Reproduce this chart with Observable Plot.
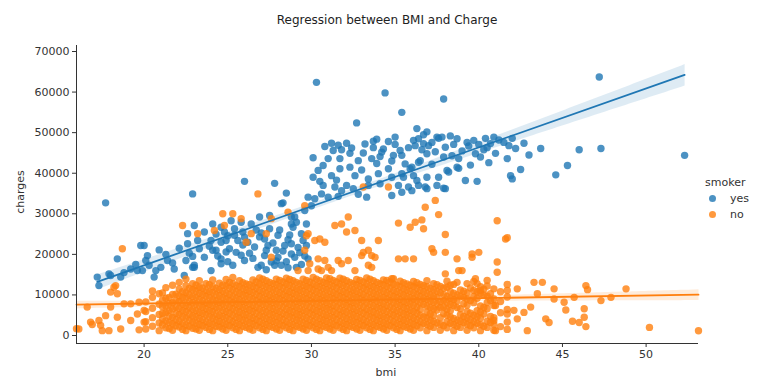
<!DOCTYPE html>
<html><head><meta charset="utf-8">
<script src="https://cdn.jsdelivr.net/npm/d3@7"></script>
<script src="https://cdn.jsdelivr.net/npm/@observablehq/plot@0.6"></script>
<style>
body{margin:0;background:#fff;font-family:"DejaVu Sans",sans-serif;}
#wrap{position:relative;width:757px;height:378px;overflow:hidden;background:#fff}
#title{height:30px;width:774px;text-align:center;font-size:12px;line-height:40px;color:#222;white-space:nowrap}
#ylab{position:absolute;left:20px;top:192px;transform:translate(-50%,-50%) rotate(-90deg);font-size:11px;color:#333}
#xlab{position:absolute;left:386px;top:366px;transform:translateX(-50%);font-size:11px;color:#333}
#legend{position:absolute;left:703px;top:174px;font-size:11px;color:#333}
#legend .row{display:flex;align-items:center;height:16px}
#legend .dot{width:7px;height:7px;border-radius:50%;margin:0 14px 0 6px;opacity:.8}
</style></head>
<body><div id="wrap"><div id="title">Regression between BMI and Charge</div><div id="chart"></div>
<div id="ylab">charges</div><div id="xlab">bmi</div><div id="legend"></div></div>
<script>
const smokerLevels = ["yes", "no"];
const colors = ["#1f77b4", "#ff7f0e"];
const xTicks = [20, 25, 30, 35, 40, 45, 50];
const yTicks = [0, 10000, 20000, 30000, 40000, 50000, 60000, 70000];
const xDomain = [15.96, 53.13];
const yDomain = [-1970, 71480];

// smokers: [bmi, charges]
const smokerPoints = [
[17.2,14400],[17.3,12300],[17.7,32700],[17.9,15200],[18.0,14800],[18.4,18900],[18.6,14400],[18.8,15500],[19.2,16400],[19.5,17500],[19.6,16000],[19.8,22200],[19.9,16000],
[20.0,22200],[20.1,18500],[20.2,19700],[20.3,17300],[20.6,14400],[20.7,16000],[20.9,21100],[21.0,16800],[21.3,20000],[21.4,18500],[21.7,17900],[21.8,16400],[22.1,21500],
[22.4,14800],[22.5,18500],[22.6,22600],[22.6,25100],[22.7,20300],[22.9,34900],[22.9,19500],[22.9,16800],[23.0,27100],[23.0,17300],[23.0,16800],[23.2,23400],[23.3,21400],
[23.6,25500],[23.6,19300],[23.9,22000],[24.0,23400],[24.0,16000],[24.1,27500],[24.1,21000],[24.3,21000],[24.3,25000],[24.4,19600],[24.6,18900],[24.6,17700],[24.6,23000],
[24.6,26700],[24.8,25500],[24.9,23400],[24.9,20600],[25.0,24600],[25.0,18200],[25.1,21400],[25.2,28300],[25.3,17300],[25.4,26300],[25.4,24700],[25.5,20500],[25.6,23400],[25.8,27900],
[25.8,19800],[25.9,25500],[25.9,22300],[26.0,24200],[26.0,18500],[26.0,38000],[26.2,23000],[26.3,20300],[26.4,27500],[26.5,19000],[26.6,21800],[26.7,26000],[26.8,16800],
[26.9,29200],[26.9,24300],[27.0,25300],[27.0,17300],[27.2,23800],[27.2,19700],[27.3,21000],[27.3,16200],[27.4,22200],[27.5,26300],[27.5,29600],[27.6,18100],[27.7,22800],
[27.8,17300],[27.8,37500],[27.9,21000],[27.9,18400],[28.0,24700],[28.0,19300],[28.1,26000],[28.2,32500],[28.2,17300],[28.3,32700],[28.3,20800],[28.4,22200],
[28.5,35100],[28.5,18200],[28.6,23600],[28.6,16700],[28.7,24800],[28.8,20100],[28.8,29200],[28.8,27500],[28.8,22600],[28.9,26700],[29.0,29200],[29.0,19300],
[29.1,27900],[29.1,16800],[29.2,21700],[29.3,20400],[29.4,25100],[29.4,17500],[29.5,23400],[29.6,30800],[29.6,19600],[29.7,27500],[29.7,22200],[29.8,34100],[29.8,18900],
[30.0,32000],[30.1,43800],[30.1,39000],[30.2,33700],[30.3,62400],[30.4,40700],[30.5,38000],[30.6,34900],[30.7,41900],[30.7,37000],
[30.8,46600],[31.0,43600],[31.0,34100],[31.2,47400],[31.2,39400],[31.3,45600],[31.4,36600],[31.5,38300],[31.6,34300],[31.6,46900],[31.7,43600],
[31.7,41100],[31.8,45800],[31.8,35700],[32.1,47400],[32.1,37000],[32.3,44900],[32.3,41500],[32.4,46200],[32.5,36200],[32.6,39400],[32.7,52400],
[32.8,34800],[32.8,43100],[33.0,40800],[33.1,45000],[33.2,47200],[33.3,34100],[33.4,38600],[33.4,37000],[33.6,43600],[33.7,47900],[33.7,46300],
[33.9,42400],[33.9,48400],[34.0,39900],[34.1,44100],[34.1,37400],[34.2,45200],[34.3,46000],[34.4,59800],[34.6,41100],[34.6,47800],[34.8,39000],[34.8,34500],[34.8,43000],
[34.9,44400],[35.0,47100],[35.0,48900],[35.2,37000],[35.3,45600],[35.4,55000],[35.4,44400],[35.4,39900],[35.4,35300],[35.5,39000],[35.6,42300],[35.8,46300],
[35.8,36600],[35.9,41100],[36.0,41500],[36.0,35700],[36.1,48100],[36.1,39400],[36.2,46800],[36.3,51000],[36.3,38200],[36.4,37000],[36.4,42700],
[36.4,48500],[36.5,43100],[36.6,45800],[36.7,47300],[36.7,49500],[36.8,36600],[36.9,39000],[36.9,36200],[36.9,44800],[36.9,50200],[37.0,46800],
[37.2,42200],[37.2,47600],[37.4,45300],[37.5,37000],[37.5,48900],[37.6,39000],[37.6,48600],[37.8,48900],[37.9,58300],[37.9,44000],[37.9,36300],[38.0,36200],[38.0,46400],
[38.1,40700],[38.2,40300],[38.3,49200],[38.4,44300],[38.5,47100],[38.7,41500],[38.7,48500],[38.8,41200],[38.8,43600],[39.0,45500],[39.2,38200],[39.3,47600],[39.4,46700],[39.5,42000],
[39.7,48100],[39.8,44800],[39.9,38000],[40.0,47100],[40.1,44000],[40.3,45800],[40.4,48600],[40.5,46300],[40.6,42600],[40.7,47300],[40.9,48900],[41.0,44900],[41.2,48200],[41.5,47600],[41.7,43600],
[41.8,46800],[41.9,39400],[42.0,48600],[42.0,38600],[42.2,46100],[42.5,40900],[42.7,47400],[43.0,44500],[43.7,46100],[44.6,39600],[45.3,41900],[46.0,45800],
[47.2,63700],[47.3,46100],[52.3,44400]
];

// non-smokers, dense body (two overlapping layers): [bmi, charges, charges, ...]
const nonSmokerColumnsA = [
[20.1,1600,3400,5900,8300],
[20.5,2300,4400,6700,9400,11000],
[20.9,1200,3100,5200,7700,10300],
[21.3,1900,3600,5600,7300,9200,11800],
[21.7,1300,2900,4500,6500,8100,10100,12400],
[22.1,2100,3500,5200,6700,8400,9800,11500,13100],
[22.5,1200,2600,4300,5900,7400,9200,10600,12300,13900],
[22.9,1800,3300,4800,6400,8100,9600,11300,12800],
[23.3,1300,2700,4200,5700,7300,8900,10400,11900,13500],
[23.7,2000,3400,5100,6600,8000,9700,11100,12800],
[24.1,1200,2800,4300,5900,7400,8900,10600,12100,13700],
[24.5,2100,3500,5000,6700,8200,9800,11300,12900],
[24.9,1300,2800,4400,5900,7500,9000,10500,12200,13800],
[25.3,1900,3400,5000,6600,8100,9600,11300,12800,14300],
[25.7,1200,2700,4300,5800,7300,8900,10400,12000,13500],
[26.1,2000,3600,5100,6600,8200,9800,11200,12700],
[26.5,1300,2900,4300,5900,7400,9000,10600,12100,13700],
[26.9,1900,3400,4900,6500,8100,9600,11100,12700,14200],
[27.3,1200,2700,4200,5800,7400,8900,10400,12000,13500],
[27.7,2000,3500,5100,6600,8100,9600,11300,12800],
[28.1,1300,2800,4400,5900,7500,9000,10500,12100,13600],
[28.5,1900,3400,5000,6500,8000,9600,11100,12700,14100],
[28.9,1200,2700,4300,5800,7300,8900,10400,11900,13500],
[29.3,2000,3600,5100,6600,8200,9700,11200,12800],
[29.7,1300,2800,4300,5900,7500,9000,10500,12100,13600],
[30.1,1900,3400,5000,6500,8100,9600,11200,12700,14300],
[30.5,1200,2700,4200,5800,7300,8900,10400,12000,13500],
[30.9,2000,3500,5000,6600,8100,9700,11300,12800,14200],
[31.3,1300,2800,4400,5900,7400,9000,10500,12100,13600],
[31.7,1900,3400,5000,6500,8100,9600,11100,12700,14100],
[32.1,1200,2700,4200,5800,7400,8900,10400,12000,13500],
[32.5,2000,3500,5100,6600,8100,9700,11200,12800],
[32.9,1300,2800,4300,5900,7500,9000,10500,12100,13600],
[33.3,1900,3400,5000,6500,8100,9600,11200,12700,14200],
[33.7,1200,2700,4300,5800,7300,8900,10400,12000,13500],
[34.1,2000,3500,5000,6600,8100,9700,11300,12800],
[34.5,1300,2800,4400,5900,7400,9000,10500,12100,13600],
[34.9,1900,3400,5000,6500,8100,9600,11100,12700,14000],
[35.3,1200,2700,4200,5800,7400,8900,10400,12000,13400],
[35.7,2000,3500,5100,6600,8100,9700,11200,12700],
[36.1,1300,2800,4300,5900,7500,9000,10500,12100,13300],
[36.5,1900,3400,5000,6500,8100,9600,11100,12600],
[36.9,1200,2700,4300,5800,7300,8900,10400,12000,13500],
[37.3,2000,3500,5000,6600,8200,9700,11300,12800],
[37.7,1300,2800,4400,6900,8400,10500,12100],
[38.1,1900,3400,5000,6500,8100,9600,11900,13400],
[38.5,1200,2700,4200,7400,8900,10400,12600],
[38.9,2000,3500,5100,6600,9700,11200],
[39.3,1300,2800,4300,5900,7500,9000,10500,12800],
[39.7,1900,3400,5000,8100,9600,11100,13300],
[40.1,1200,2700,4300,5800,7300,10400,12000],
[40.5,2000,3500,6600,8100,9700,12200],
[40.9,1300,2800,4400,7400,9000,11500],
[41.3,2200,5600,8400,10800],
[41.7,1500,3300,6400,9500,12600]
];
const nonSmokerColumnsB = [
[21.1,2600,4100,5500,7100,8700,10500],
[21.5,1700,3200,4800,6200,7900,9400],
[21.9,2400,3900,5400,7000,8600,10200],
[22.3,1500,3000,4600,6100,7700,9300,10800],
[22.7,2300,3800,5300,6900,8400,10000,11600],
[23.1,1600,3100,4700,6200,7800,9400,11000,12400],
[23.5,2400,3900,5500,7000,8500,10100,11700],
[23.9,1500,3000,4600,6100,7700,9300,10800,12500],
[24.3,2300,3800,5300,6900,8500,10000,11600],
[24.7,1600,3100,4700,6200,7800,9300,10900,12400],
[25.1,2400,3900,5500,7000,8600,10100,11700,13100],
[25.5,1500,3000,4500,6100,7700,9200,10800,12300],
[25.9,2300,3800,5300,6900,8400,10000,11500,13000],
[26.3,1600,3100,4700,6300,7800,9400,10900,12500],
[26.7,2400,3900,5500,7000,8600,10100,11700,13200],
[27.1,1500,3000,4600,6100,7700,9200,10800,12400,13900],
[27.5,2300,3800,5300,6900,8500,10000,11600,13100],
[27.9,1600,3200,4700,6200,7800,9400,10900,12500,13900],
[28.3,2400,3900,5400,7000,8600,10100,11700,13200],
[28.7,1500,3000,4600,6100,7700,9300,10800,12400,13800],
[29.1,2300,3800,5300,6900,8400,10000,11500,13100],
[29.5,1600,3100,4700,6200,7800,9300,10900,12400,13900],
[29.9,2400,3900,5500,7000,8600,10100,11700,13200],
[30.3,1500,3000,4600,6100,7700,9200,10800,12300,13900],
[30.7,2300,3800,5300,6900,8500,10000,11600,13100],
[31.1,1600,3100,4700,6300,7800,9400,10900,12500,14000],
[31.5,2400,3900,5400,7000,8600,10100,11700,13200],
[31.9,1500,3000,4600,6100,7700,9300,10800,12400,13900],
[32.3,2300,3800,5300,6900,8400,10000,11500,13100],
[32.7,1600,3200,4700,6200,7800,9400,10900,12500,13800],
[33.1,2400,3900,5500,7000,8600,10100,11700,13200],
[33.5,1500,3000,4600,6100,7700,9200,10800,12300,13900],
[33.9,2300,3800,5300,6900,8500,10000,11600,13100],
[34.3,1600,3100,4700,6300,7800,9400,10900,12500,13700],
[34.7,2400,3900,5400,7000,8600,10100,11700,13200],
[35.1,1500,3000,4600,6100,7700,9300,10800,12400],
[35.5,2300,3800,5300,6900,8400,10000,11500,13000],
[35.9,1600,3100,4700,6200,7800,9300,10900,12400],
[36.3,2400,3900,5500,7000,8600,10100,11700,13000],
[36.7,3000,4600,7700,9200,10800,12300],
[37.1,2300,3800,5300,6900,8500,10000,11600],
[37.5,3100,6300,7800,9400,10900,12500],
[37.9,2400,5400,7000,8600,10100,11700],
[38.3,3000,4600,6100,7700,9200,10800,12400],
[38.7,2300,3800,6900,8500,10000,13100],
[39.1,3200,4700,7800,9400,10900],
[39.5,2400,3900,5500,8600,11700],
[39.9,3000,4600,6100,9200,10800,12800],
[40.3,2300,5300,6900,10000,11400],
[40.7,3200,4700,8600,10300]
];

// non-smokers, scattered points: [bmi, charges]
const nonSmokerScatter = [
[15.96,1694],[16.1,1600],[16.6,7000],[16.8,3300],[16.9,2700],[17.3,3700],[17.4,2500],[17.5,1200],[17.7,4900],[17.9,1200],
[18.0,7000],[18.0,10700],[18.2,11900],[18.3,12300],[18.4,4500],[18.4,10300],[18.6,1600],[18.7,21400],[18.8,7800],[19.2,3700],
[19.2,7800],[19.6,5300],[19.7,8200],[19.7,1400],[20.0,6200],[20.0,3300],[22.3,27100],[23.2,25100],[24.2,25900],[24.7,30000],
[24.8,27100],[25.3,30000],[25.8,28800],[26.1,23000],[26.4,25100],[26.8,34900],[27.3,25100],[27.6,19300],[27.6,28800],[28.6,30400],
[29.2,16000],[29.6,32000],[29.6,21000],[29.7,24600],[29.8,25100],[29.8,16000],[29.9,17700],[30.2,23400],[30.4,18900],[30.4,16400],
[30.5,23800],[30.6,16000],[30.8,23000],[30.8,18500],[31.0,16800],[31.2,16000],[31.4,27100],[31.6,18500],[31.8,27500],[31.8,17700],
[32.1,25500],[32.2,29200],[32.2,18500],[32.6,25900],[32.6,16000],[33.0,23400],[33.0,19700],[33.1,36600],[33.1,20500],[33.4,21000],
[33.4,17300],[33.6,16800],[33.6,19700],[33.8,19300],[34.0,23400],[34.6,36600],[34.8,14000],[35.2,27700],[35.2,18900],[35.6,18900],
[35.9,26700],[36.1,18900],[36.2,27900],[36.6,28500],[36.7,26300],[36.8,31600],[37.2,21400],[37.3,20500],[37.4,33300],[37.6,29800],
[38.0,24900],[38.0,20500],[38.0,15200],[38.7,18900],[38.8,16000],[39.0,16000],[39.6,19300],[39.6,20100],[39.8,14000],[40.0,20500],
[40.1,11100],[40.5,13600],[40.9,3700],[41.0,7400],[41.0,1200],[41.1,28300],[41.1,18100],[41.1,15600],[41.6,23800],[41.7,24100],
[41.7,11100],[41.7,5300],[42.1,6200],[42.3,11500],[42.3,4100],[42.7,5700],[42.9,1200],[43.1,7000],[43.3,13100],[43.5,10300],
[43.8,13100],[44.0,4100],[44.2,3200],[44.5,11500],[44.5,9000],[45.1,8200],[45.2,6300],[45.6,3500],[45.7,9400],[46.0,3200],
[46.3,6600],[46.3,4500],[46.4,12300],[46.4,2200],[46.5,11300],[47.3,8600],[47.9,9400],[48.8,11500],[50.2,2000],[53.13,1163]
];

const expand = cols => cols.flatMap(([bmi, ...cs]) => cs.map(charges => ({bmi, charges})));
const smoker = smokerPoints.map(([bmi, charges]) => ({bmi, charges, smoker: "yes"}));
const nonSmoker = [
  ...expand(nonSmokerColumnsA),
  ...expand(nonSmokerColumnsB),
  ...nonSmokerScatter.map(([bmi, charges]) => ({bmi, charges}))
].map(d => ({...d, smoker: "no"}));

const R = 3.7;
const chart = Plot.plot({
  width: 757, height: 348,
  marginTop: 15, marginBottom: 35, marginLeft: 76, marginRight: 59,
  x: {domain: xDomain, label: null},
  y: {domain: yDomain, label: null},
  style: {fontFamily: "DejaVu Sans, sans-serif", fontSize: "11px", color: "#333", background: "#fff"},
  marks: [
    Plot.axisX({ticks: xTicks, tickSize: 4, tickPadding: 3, label: null, stroke: "#333"}),
    Plot.axisY({ticks: yTicks, tickSize: 4, tickPadding: 3, tickFormat: d => String(d), label: null, stroke: "#333"}),
    Plot.dot(smoker, {x: "bmi", y: "charges", r: R, fill: colors[0], fillOpacity: 0.8, stroke: null}),
    Plot.linearRegressionY(smoker, {x: "bmi", y: "charges", ci: 0.95, fill: colors[0], fillOpacity: 0.15, stroke: "none"}),
    Plot.dot(nonSmoker, {x: "bmi", y: "charges", r: R, fill: colors[1], fillOpacity: 0.8, stroke: null}),
    Plot.linearRegressionY(nonSmoker, {x: "bmi", y: "charges", ci: 0.95, fill: colors[1], fillOpacity: 0.15, stroke: "none"}),
    Plot.linearRegressionY(smoker, {x: "bmi", y: "charges", ci: 0, stroke: colors[0], strokeWidth: 1.8}),
    Plot.linearRegressionY(nonSmoker, {x: "bmi", y: "charges", ci: 0, stroke: colors[1], strokeWidth: 1.8}),
    Plot.ruleX([xDomain[0]], {stroke: "#333", strokeWidth: 1}),
    Plot.ruleY([yDomain[0]], {stroke: "#333", strokeWidth: 1})
  ]
});
document.getElementById("chart").appendChild(chart);

const legend = document.getElementById("legend");
legend.innerHTML = '<div class="row" style="padding-left:2px">smoker</div>' +
  smokerLevels.map((s, i) => `<div class="row"><span class="dot" style="background:${colors[i]}"></span>${s}</div>`).join("");
</script></body></html>
